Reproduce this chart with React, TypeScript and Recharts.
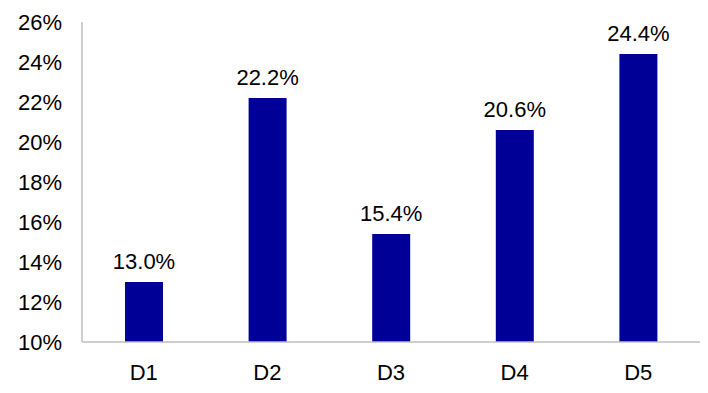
import { BarChart, Bar, XAxis, YAxis, LabelList } from 'recharts';

const categories = ['D1', 'D2', 'D3', 'D4', 'D5'];
const shares = [13.0, 22.2, 15.4, 20.6, 24.4];
const yTicks = [10, 12, 14, 16, 18, 20, 22, 24, 26];

const data = categories.map((name, i) => ({ name, value: shares[i] }));

const font = { fontFamily: '"Liberation Sans", Arial, sans-serif', fontSize: 22, fill: '#000' };

export default function App() {
    return (
        <div style={{ position: 'absolute', left: 0, top: 0, background: '#fff' }}>
            <BarChart
                width={708}
                height={393}
                data={data}
                margin={{ top: 22, right: 8, left: 0, bottom: 21 }}
            >
                <XAxis
                    dataKey="name"
                    height={30}
                    tickLine={false}
                    tickSize={0}
                    tickMargin={22}
                    axisLine={{ stroke: '#bfbfbf', strokeWidth: 1.5 }}
                    tick={font}
                />
                <YAxis
                    width={82}
                    domain={[10, 26]}
                    ticks={yTicks}
                    allowDataOverflow
                    tickLine={false}
                    tickSize={0}
                    tickMargin={20}
                    axisLine={{ stroke: '#bfbfbf', strokeWidth: 1.5 }}
                    tickFormatter={(v: number) => `${v}%`}
                    tick={font}
                />
                <Bar dataKey="value" fill="#000096" barSize={38} isAnimationActive={false}>
                    <LabelList
                        dataKey="value"
                        position="top"
                        offset={13}
                        formatter={(v: number) => `${v.toFixed(1)}%`}
                        style={font}
                    />
                </Bar>
            </BarChart>
        </div>
    );
}
